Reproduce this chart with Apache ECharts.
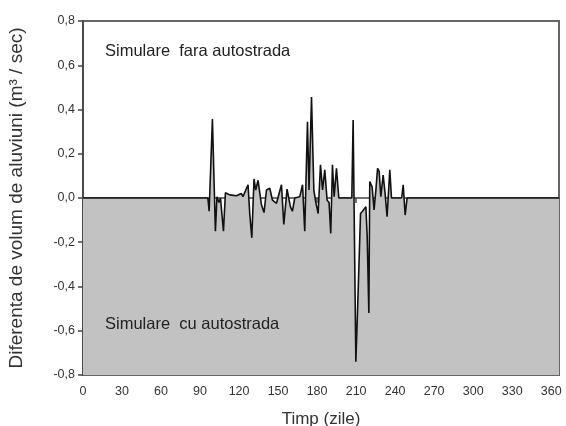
<!DOCTYPE html>
<html>
<head>
<meta charset="utf-8">
<script src="https://cdn.jsdelivr.net/npm/echarts@6/dist/echarts.min.js"></script>
<style>
  html, body { margin: 0; padding: 0; background: #fff; }
  #chart { width: 566px; height: 426px; }
</style>
</head>
<body>
<div id="chart"></div>
<script>
// zile (x) si diferenta de volum (y)
var days = [0, 96, 97, 99.5, 101.8, 103, 104.6, 105.7, 108, 109.5, 112.8, 118, 121.8, 123,
    126.9, 128.2, 129.8, 131.5, 132.8, 134.6, 137.2, 139.2, 141.1, 143.6, 145.7, 148.8,
    152.6, 154.4, 156.9, 159.5, 161, 162.8, 166.7, 168.8, 170.5, 172.6, 173.8, 175.7,
    177.5, 179, 180.8, 182.6, 184.2, 185.9, 187.7, 189.2, 190.5, 191.8, 193.1, 194.9,
    196.7, 206.7, 207.7, 209.8, 211.1, 213.4, 214.9, 217.5, 218.5, 219.8, 220.5, 222.3,
    223.8, 225.2, 226.5, 227.7, 229, 230.8, 232.3, 233.8, 235.9, 237.2, 245, 246.2,
    247.7, 249.2, 366]
var diff = [0, 0, -0.06, 0.357, -0.15, 0.005, -0.02, 0, -0.15, 0.024, 0.014, 0.01, 0.02, 0.006,
    0.06, -0.07, -0.18, 0.086, 0.036, 0.08, -0.03, -0.066, 0.036, 0.044, -0.01, -0.024,
    0.06, -0.12, 0.04, -0.04, -0.06, 0, 0.006, 0.06, -0.15, 0.345, 0.036, 0.456,
    0.036, -0.02, -0.07, 0.15, 0.036, 0.127, -0.01, -0.02, -0.16, 0.15, 0.006, 0.134,
    0, 0, 0.353, -0.74, -0.51, -0.07, -0.06, -0.04, -0.17, -0.52, 0.074, 0.05,
    -0.054, 0.036, 0.134, 0.12, 0.006, 0.104, 0.02, -0.085, 0.127, 0, 0, 0.06,
    -0.077, 0, 0]
var labelSus = 'Simulare  fara autostrada'
var labelJos = 'Simulare  cu autostrada'

var echart = echarts.init(document.getElementById('chart'))
var seriesData = days.map(function (d, i) { return [d, diff[i]] })
var font = 'Liberation Sans, Arial, sans-serif'

var option = {
    animation: false,
    textStyle: { fontFamily: font },
    grid: {
        left: 83,
        right: 7,
        top: 21,
        bottom: 51,
        outerBoundsMode: 'none',
        containLabel: false,
        show: true,
        borderColor: '#666',
        borderWidth: 2
    },
    xAxis: {
        type: 'value',
        min: 0,
        max: 366,
        interval: 30,
        name: 'Timp (zile)',
        nameLocation: 'middle',
        nameGap: 36,
        nameTextStyle: { color: '#333', fontSize: 17, fontFamily: font },
        axisLine: { lineStyle: { color: '#444', width: 1.5 } },
        axisTick: { length: 5, lineStyle: { color: '#444', width: 1.5 } },
        axisLabel: { color: '#333', fontSize: 12.5, margin: 10, showMaxLabel: false },
        splitLine: { show: false }
    },
    yAxis: {
        type: 'value',
        min: -0.8,
        max: 0.8,
        interval: 0.2,
        name: 'Diferenta de volum de aluviuni (m³ / sec)',
        nameLocation: 'middle',
        nameGap: 57,
        nameTextStyle: { color: '#333', fontSize: 19, fontFamily: font },
        axisLine: { lineStyle: { color: '#444', width: 1.5 } },
        axisTick: { length: 5, lineStyle: { color: '#444', width: 1.5 } },
        axisLabel: {
            color: '#333',
            fontSize: 12.5,
            margin: 8,
            formatter: function (v) { return v.toFixed(1).replace('.', ',') }
        },
        splitLine: { show: false }
    },
    graphic: [
        {
            type: 'text',
            left: 105,
            top: 43,
            z: 100,
            style: { text: labelSus, fontSize: 16.5, fill: '#222', fontFamily: font }
        },
        {
            type: 'text',
            left: 105,
            top: 316,
            z: 100,
            style: { text: labelJos, fontSize: 16.5, fill: '#222', fontFamily: font }
        }
    ],
    series: [
        {
            type: 'line',
            data: seriesData,
            showSymbol: false,
            smooth: false,
            lineStyle: { color: '#111', width: 1.6 },
            areaStyle: { color: '#c2c2c2', opacity: 1, origin: 'start' }
        }
    ]
}
echart.setOption(option)
</script>
</body>
</html>
